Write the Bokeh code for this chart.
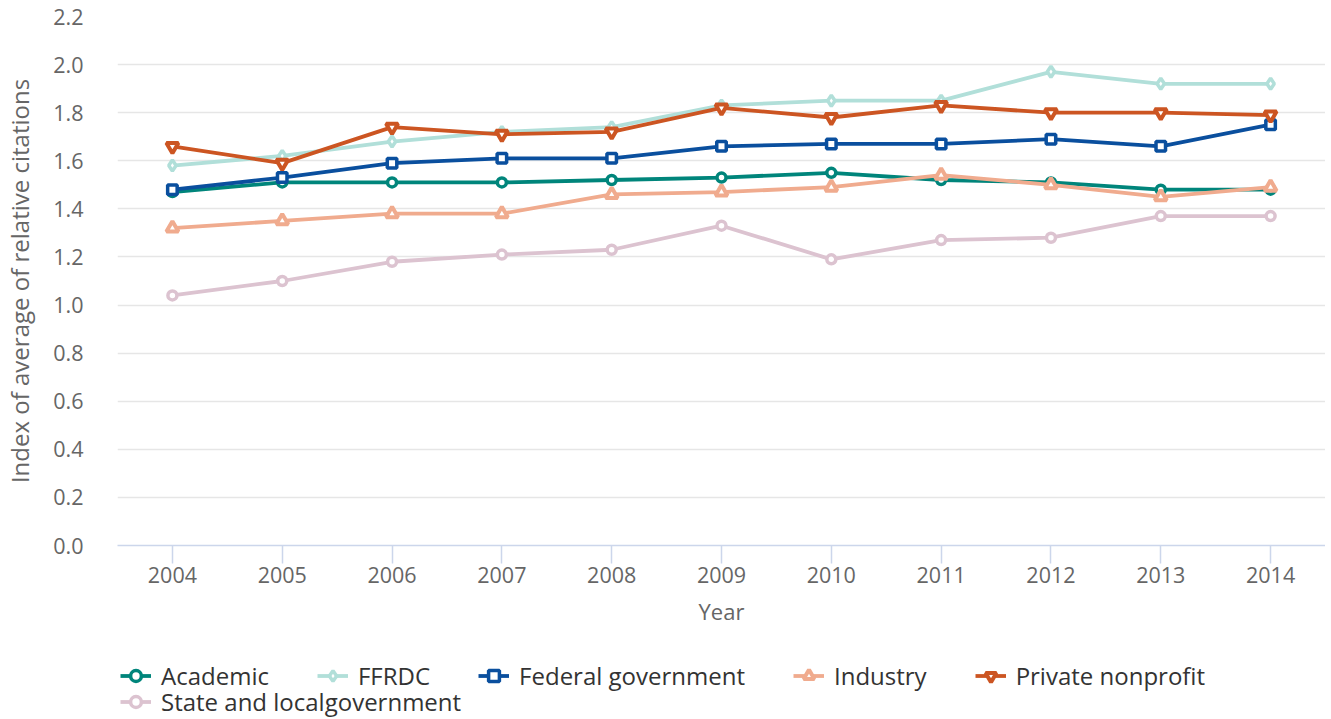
from bokeh.plotting import figure
from bokeh.layouts import column
from bokeh.models import (Range1d, FixedTicker, SingleIntervalTicker, NumeralTickFormatter,
                          Legend, LegendItem, ColumnDataSource)
from bokeh.embed import file_html
from bokeh.resources import INLINE

years = [2004, 2005, 2006, 2007, 2008, 2009, 2010, 2011, 2012, 2013, 2014]
academic = [1.47, 1.51, 1.51, 1.51, 1.52, 1.53, 1.55, 1.52, 1.51, 1.48, 1.48]
ffrdc = [1.58, 1.62, 1.68, 1.72, 1.74, 1.83, 1.85, 1.85, 1.97, 1.92, 1.92]
federal = [1.48, 1.53, 1.59, 1.61, 1.61, 1.66, 1.67, 1.67, 1.69, 1.66, 1.75]
industry = [1.32, 1.35, 1.38, 1.38, 1.46, 1.47, 1.49, 1.54, 1.50, 1.45, 1.49]
private_np = [1.66, 1.59, 1.74, 1.71, 1.72, 1.82, 1.78, 1.83, 1.80, 1.80, 1.79]
state_local = [1.04, 1.10, 1.18, 1.21, 1.23, 1.33, 1.19, 1.27, 1.28, 1.37, 1.37]

series_names = ["Academic", "FFRDC", "Federal government", "Industry",
                "Private nonprofit", "State and localgovernment"]
series_values = [academic, ffrdc, federal, industry, private_np, state_local]
colors = ["#00857b", "#b1dfd9", "#0a4f9e", "#f0ab8e", "#cc5522", "#dcc3d0"]
markers = ["circle", "diamond", "square", "triangle", "inverted_triangle", "circle"]
msizes = [9, 11, 9.5, 12, 12, 9]
mwidths = [3.5, 3.5, 3.5, 4, 4, 3.5]

FONT = "Open Sans"
LINE_W = 3.8

p = figure(frame_width=1208, frame_height=529, output_backend="svg", toolbar_location=None,
           x_range=Range1d(2003.5, 2014.5), y_range=Range1d(0, 2.2),
           min_border_left=107, min_border_right=0, min_border_top=16,
           min_border_bottom=95)
p.outline_line_color = None

p.xaxis.ticker = FixedTicker(ticks=years)
p.xaxis.axis_line_color = "#ccd6eb"
p.xaxis.axis_line_width = 1.5
p.xaxis.major_tick_line_color = "#ccd6eb"
p.xaxis.major_tick_line_width = 1.5
p.xaxis.major_tick_out = 18
p.xaxis.major_tick_in = 0
p.xaxis.minor_tick_line_color = None
p.xaxis.major_label_standoff = 3
p.xaxis.major_label_text_font = FONT
p.xaxis.major_label_text_font_size = "21.5px"
p.xaxis.major_label_text_color = "#666666"
p.xaxis.axis_label = "Year"
p.xaxis.axis_label_text_font = FONT
p.xaxis.axis_label_text_font_size = "22px"
p.xaxis.axis_label_text_font_style = "normal"
p.xaxis.axis_label_text_color = "#666666"
p.xaxis.axis_label_standoff = 10

p.yaxis.ticker = SingleIntervalTicker(interval=0.2)
p.yaxis.formatter = NumeralTickFormatter(format="0.0")
p.yaxis.axis_line_color = None
p.yaxis.major_tick_line_color = None
p.yaxis.minor_tick_line_color = None
p.yaxis.major_label_standoff = 28
p.yaxis.major_label_text_font = FONT
p.yaxis.major_label_text_font_size = "21.5px"
p.yaxis.major_label_text_color = "#666666"
p.yaxis.axis_label = "Index of average of relative citations"
p.yaxis.axis_label_text_font = FONT
p.yaxis.axis_label_text_font_size = "24px"
p.yaxis.axis_label_text_font_style = "normal"
p.yaxis.axis_label_text_color = "#666666"
p.yaxis.axis_label_standoff = 14

p.xgrid.grid_line_color = None
p.ygrid.grid_line_color = "#e6e6e6"
p.ygrid.grid_line_width = 1.3

for name, vals, col, mk, ms, mw in zip(series_names, series_values, colors, markers, msizes, mwidths):
    src = ColumnDataSource(dict(x=years, y=vals))
    p.line("x", "y", source=src, line_color=col, line_width=LINE_W)
    p.scatter("x", "y", source=src, marker=mk, size=ms, fill_color="white",
              line_color=col, line_width=mw)

# legend strip below the chart
p2 = figure(width=1315, height=78, output_backend="svg", toolbar_location=None,
            x_range=Range1d(0, 1), y_range=Range1d(0, 1),
            min_border_left=0, min_border_right=0, min_border_top=0, min_border_bottom=0)
p2.axis.visible = False
p2.grid.visible = False
p2.outline_line_color = None

items = []
for name, col, mk, ms, mw in zip(series_names, colors, markers, msizes, mwidths):
    off = ColumnDataSource(dict(x=[-10.0], y=[-10.0]))  # legend-only renderers, outside view
    ln = p2.line("x", "y", source=off, line_color=col, line_width=LINE_W)
    sc = p2.scatter("x", "y", source=off, marker=mk, size=ms, fill_color="white",
                    line_color=col, line_width=mw)
    items.append(LegendItem(label=name, renderers=[ln, sc]))

def make_legend(its, loc):
    return Legend(items=its, orientation="horizontal", location=loc,
                  border_line_color=None, background_fill_alpha=0,
                  padding=0, margin=0, spacing=48,
                  glyph_width=31, glyph_height=27, label_height=27,
                  label_standoff=10,
                  label_text_font=FONT, label_text_font_size="24px",
                  label_text_color="#333333")

p2.add_layout(make_legend(items[:5], (3, 26)), "center")
p2.add_layout(make_legend(items[5:], (3, 0)), "center")

open("out.html", "w").write(file_html(column(p, p2), INLINE))
